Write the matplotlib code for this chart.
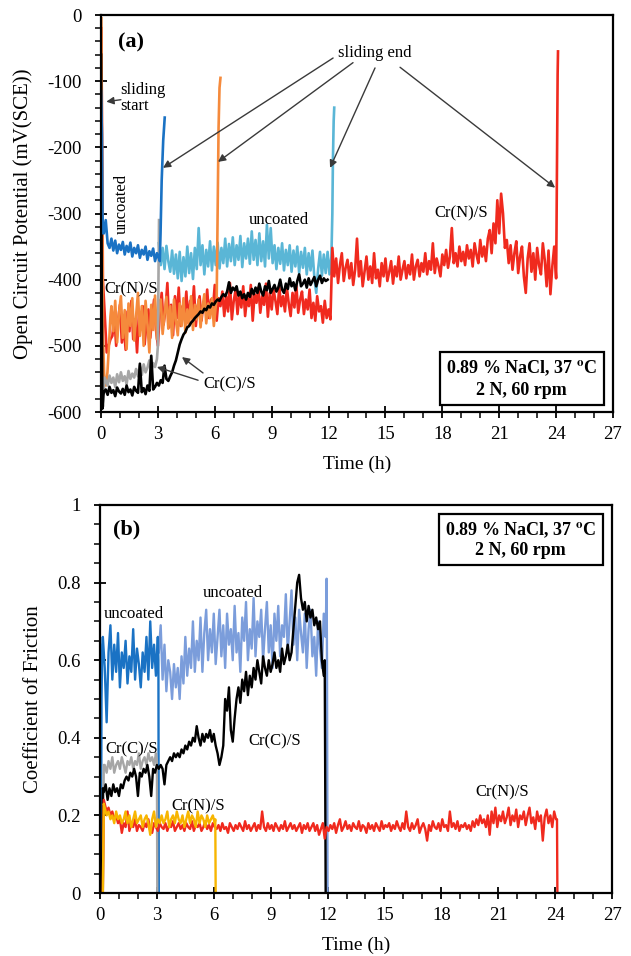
import numpy as np
import matplotlib
matplotlib.use("Agg")
from matplotlib import pyplot as plt
from matplotlib.ticker import MultipleLocator, FuncFormatter

plt.rcParams['font.family'] = ['Liberation Serif', 'DejaVu Serif']
plt.rcParams['mathtext.fontset'] = 'stix'
plt.rcParams['axes.unicode_minus'] = False

# colours of the runs
C_UNC3 = '#1a72c4'
C_UNC12_A = '#5ab6d6'
C_UNC12_B = '#7b9ddb'
C_N6_A = '#f58a3c'
C_N6_B = '#f7b500'
C_N24 = '#f02a1e'
C_C3 = '#a6a6a6'
C_C12 = '#000000'

# ---------------- (a) open circuit potential, mV(SCE) ----------------
# uncoated, 3 h sliding
ocp_u3_head_t = [0.0, 0.05, 0.08, 0.11]
ocp_u3_head_v = [-115, -180, -300, -330]
ocp_u3_span = (0.15, 3.05)
ocp_u3 = [-330, -310, -345, -352, -338, -356, -341, -360, -347, -355,
          -343, -362, -349, -358, -344, -365, -352, -360, -348, -367,
          -355, -362, -350, -370, -357, -364, -353, -372, -360, -368]
ocp_u3_tail_t = [3.1, 3.14, 3.2, 3.28, 3.36]
ocp_u3_tail_v = [-372, -330, -250, -190, -155]

# uncoated, 12 h sliding
ocp_u12_span = (3.05, 12.15)
ocp_u12 = [-345, -378, -352, -384, -349, -372, -388, -356, -391, -362,
           -398, -358, -402, -366, -395, -350, -390, -360, -399, -352,
           -384, -322, -378, -348, -392, -355, -380, -342, -386, -350,
           -378, -344, -383, -352, -375, -338, -380, -346, -372, -336,
           -378, -348, -370, -334, -381, -345, -368, -338, -376, -327,
           -370, -340, -378, -330, -372, -342, -380, -317, -368, -322,
           -375, -348, -384, -352, -376, -345, -386, -355, -378, -348,
           -388, -356, -380, -350, -390, -358, -382, -352, -392, -360,
           -386, -356, -396, -420, -384, -358, -394, -362, -390, -358,
           -392, -365]
ocp_u12_tail_t = [12.2, 12.23, 12.27, 12.3]
ocp_u12_tail_v = [-300, -220, -160, -140]

# Cr(N)/S, 6 h sliding
ocp_n6_head_t = [0.02, 0.05, 0.1, 0.18, 0.26, 0.34, 0.42, 0.5]
ocp_n6_head_v = [-5, -200, -480, -556, -560, -540, -500, -455]
ocp_n6_span = (0.55, 6.05)
ocp_n6 = [-440, -478, -432, -495, -450, -425, -488, -446, -505, -436,
          -470, -428, -492, -455, -420, -485, -440, -500, -432, -468,
          -510, -438, -476, -424, -490, -445, -430, -482, -452, -426,
          -474, -440, -488, -430, -462, -484, -436, -470, -428, -480,
          -445, -468, -425, -476, -438, -460, -430, -472, -442, -422,
          -466, -436, -458, -428, -470, -440]
ocp_n6_tail_t = [6.1, 6.15, 6.2, 6.25, 6.3]
ocp_n6_tail_v = [-430, -300, -170, -110, -95]

# Cr(N)/S, 24 h sliding (before and after the 12 h step)
ocp_n24_head_t = [0.02, 0.1, 0.3, 0.5]
ocp_n24_head_v = [-20, -400, -510, -490]
ocp_n24_span1 = (0.6, 12.1)
ocp_n24_1 = [-485, -455, -500, -462, -438, -495, -470, -506, -448, -478,
             -432, -490, -460, -510, -452, -475, -440, -498, -466, -445,
             -488, -455, -430, -476, -500, -450, -420, -468, -445, -405,
             -472, -438, -484, -425, -458, -412, -470, -440, -455, -418,
             -465, -432, -452, -410, -470, -440, -425, -462, -435, -448,
             -415, -458, -430, -445, -408, -462, -428, -440, -418, -455,
             -425, -448, -405, -460, -432, -415, -452, -420, -442, -410,
             -455, -428, -440, -408, -462, -422, -435, -412, -450, -425,
             -438, -406, -456, -420, -445, -415, -432, -452, -410, -440,
             -425, -448, -412, -436, -455, -420, -442, -408, -450, -430,
             -418, -452, -430, -445, -415, -458, -435, -462, -425, -448,
             -440, -465, -432, -458, -445, -460]
ocp_n24_span2 = (12.2, 24.0)
ocp_n24_2 = [-352, -395, -368, -405, -378, -360, -402, -382, -370, -398,
             -375, -408, -385, -338, -395, -372, -410, -388, -365, -400,
             -380, -405, -360, -398, -385, -410, -375, -395, -368, -402,
             -388, -372, -406, -380, -395, -365, -400, -385, -372, -398,
             -378, -392, -362, -400, -380, -370, -395, -375, -388, -360,
             -392, -372, -385, -345, -390, -368, -380, -395, -362, -378,
             -355, -382, -365, -322, -375, -360, -380, -350, -372, -358,
             -378, -348, -368, -355, -380, -345, -362, -375, -340, -365,
             -350, -372, -338, -325, -360, -315, -345, -280, -330, -270,
             -300, -352, -340, -375, -348, -385, -360, -342, -390, -365,
             -350, -395, -420, -368, -345, -388, -360, -400, -352, -378,
             -392, -345, -370, -410, -356, -422, -380, -350, -398]
ocp_n24_tail_t = [24.02, 24.05, 24.08, 24.1]
ocp_n24_tail_v = [-330, -200, -90, -55]

# Cr(C)/S, 3 h sliding
ocp_c3_head_t = [0.12, 0.18]
ocp_c3_head_v = [-590, -548]
ocp_c3_span = (0.25, 2.95)
ocp_c3 = [-552, -560, -545, -556, -548, -562, -543, -555, -540, -553,
          -546, -558, -538, -550, -542, -548, -535, -546, -530, -544,
          -528, -540, -533, -522, -538, -526, -532, -520]
ocp_c3_tail_t = [3.0, 3.03, 3.06]
ocp_c3_tail_v = [-500, -400, -310]

# Cr(C)/S, 12 h sliding
ocp_c12_head_t = [0.0, 0.03, 0.07, 0.12]
ocp_c12_head_v = [-60, -350, -595, -575]
ocp_c12_span = (0.15, 11.95)
ocp_c12 = [-570, -566, -574, -562, -571, -567, -576, -563, -569, -572,
           -565, -574, -560, -570, -566, -575, -562, -568, -571, -527,
           -570, -564, -573, -560, -568, -515, -566, -562, -556, -560,
           -552, -556, -530, -550, -553, -546, -540, -530, -522, -510,
           -498, -490, -483, -479, -472, -470, -465, -462, -458, -455,
           -452, -448, -450, -444, -446, -440, -442, -436, -438, -433,
           -430, -432, -426, -422, -425, -418, -404, -420, -412, -416,
           -410, -424, -418, -428, -422, -430, -420, -426, -414, -422,
           -412, -420, -406, -418, -424, -410, -416, -402, -420, -414,
           -408, -418, -412, -400, -415, -420, -406, -414, -398, -410,
           -404, -416, -402, -392, -410, -406, -400, -412, -398, -408,
           -402, -396, -410, -400, -394, -405, -398, -402, -400]

# ---------------- (b) coefficient of friction ----------------
cof_u3_head_t = [0.05, 0.08, 0.12]
cof_u3_head_v = [0.0, 0.5, 0.64]
cof_u3_span = (0.15, 3.05)
cof_u3 = [0.66, 0.58, 0.44, 0.62, 0.69, 0.55, 0.64, 0.57, 0.67, 0.53,
          0.62, 0.58, 0.65, 0.54, 0.61, 0.57, 0.68, 0.55, 0.63, 0.59,
          0.53, 0.62, 0.57, 0.66, 0.55, 0.70, 0.58, 0.64, 0.56, 0.66]
cof_u3_tail_t = [3.08, 3.1]
cof_u3_tail_v = [0.6, 0.0]

cof_u12_span = (3.1, 11.9)
cof_u12 = [0.62, 0.69, 0.55, 0.64, 0.52, 0.60, 0.57, 0.50, 0.59, 0.53,
           0.58, 0.50, 0.61, 0.54, 0.66, 0.56, 0.63, 0.58, 0.70, 0.57,
           0.65, 0.60, 0.71, 0.57, 0.67, 0.73, 0.60, 0.68, 0.62, 0.72,
           0.59, 0.66, 0.73, 0.61, 0.69, 0.58, 0.72, 0.64, 0.68, 0.60,
           0.74, 0.62, 0.67, 0.57, 0.71, 0.65, 0.75, 0.60, 0.68, 0.63,
           0.76, 0.61, 0.70, 0.66, 0.73, 0.60, 0.68, 0.75, 0.62, 0.69,
           0.58, 0.72, 0.65, 0.74, 0.61, 0.69, 0.66, 0.77, 0.62, 0.70,
           0.78, 0.64, 0.71, 0.60, 0.73, 0.67, 0.62, 0.72, 0.58, 0.68,
           0.73, 0.61, 0.66, 0.56, 0.70, 0.63, 0.58, 0.72, 0.66]
cof_u12_tail_t = [11.95, 11.97, 12.0]
cof_u12_tail_v = [0.81, 0.6, 0.0]

cof_c12_head_t = [0.1, 0.15]
cof_c12_head_v = [0.0, 0.27]
cof_c12_span = (0.2, 11.8)
cof_c12 = [0.26, 0.28, 0.24, 0.27, 0.25, 0.28, 0.26, 0.27, 0.25, 0.28,
           0.27, 0.29, 0.30, 0.29, 0.31, 0.30, 0.32, 0.30, 0.25, 0.31,
           0.30, 0.32, 0.31, 0.33, 0.30, 0.25, 0.32, 0.31, 0.33, 0.32,
           0.33, 0.32, 0.28, 0.33, 0.34, 0.35, 0.34, 0.36, 0.35, 0.36,
           0.35, 0.37, 0.36, 0.38, 0.37, 0.39, 0.38, 0.40, 0.39, 0.43,
           0.40, 0.38, 0.41, 0.39, 0.41, 0.40, 0.42, 0.39, 0.41, 0.38,
           0.36, 0.33, 0.35, 0.38, 0.50, 0.47, 0.53, 0.42, 0.39, 0.45,
           0.50, 0.53, 0.49, 0.55, 0.52, 0.57, 0.51, 0.56, 0.53, 0.58,
           0.55, 0.60, 0.57, 0.54, 0.61, 0.58, 0.56, 0.60, 0.57, 0.59,
           0.62, 0.58, 0.60, 0.57, 0.63, 0.59, 0.61, 0.64, 0.60, 0.62,
           0.68, 0.74, 0.80, 0.82, 0.76, 0.73, 0.75, 0.70, 0.74, 0.71,
           0.73, 0.69, 0.71, 0.68, 0.70, 0.60, 0.56]
cof_c12_tail_t = [11.85, 11.9]
cof_c12_tail_v = [0.6, 0.0]

cof_c3_head_t = [0.15, 0.2]
cof_c3_head_v = [0.0, 0.33]
cof_c3_span = (0.25, 2.95)
cof_c3 = [0.33, 0.31, 0.34, 0.32, 0.35, 0.31, 0.33, 0.34, 0.32, 0.35,
          0.33, 0.31, 0.34, 0.33, 0.35, 0.32, 0.34, 0.33, 0.36, 0.32,
          0.34, 0.35, 0.33, 0.36, 0.34, 0.35, 0.33, 0.36]
cof_c3_tail_t = [3.0, 3.02]
cof_c3_tail_v = [0.34, 0.0]

cof_n6_head_t = [0.15, 0.2]
cof_n6_head_v = [0.0, 0.23]
cof_n6_span = (0.25, 6.05)
cof_n6 = [0.22, 0.20, 0.21, 0.19, 0.20, 0.18, 0.21, 0.19, 0.20, 0.18,
          0.19, 0.21, 0.18, 0.20, 0.17, 0.19, 0.21, 0.18, 0.19, 0.20,
          0.17, 0.19, 0.20, 0.18, 0.15, 0.19, 0.21, 0.17, 0.19, 0.18,
          0.20, 0.18, 0.19, 0.21, 0.17, 0.19, 0.20, 0.18, 0.21, 0.19,
          0.18, 0.20, 0.17, 0.19, 0.21, 0.18, 0.20, 0.19, 0.17, 0.21,
          0.18, 0.20, 0.19, 0.17, 0.20, 0.18, 0.19, 0.20, 0.18]
cof_n6_tail_t = [6.08, 6.1]
cof_n6_tail_v = [0.19, 0.0]

cof_n24_head_t = [0.15, 0.2]
cof_n24_head_v = [0.0, 0.24]
cof_n24_span = (0.25, 24.05)
cof_n24 = [0.23, 0.21, 0.22, 0.20, 0.21, 0.19, 0.20, 0.18, 0.19, 0.155,
           0.18, 0.17, 0.21, 0.16, 0.18, 0.17, 0.19, 0.16, 0.175, 0.17,
           0.16, 0.18, 0.17, 0.19, 0.16, 0.155, 0.18, 0.17, 0.16, 0.18,
           0.17, 0.165, 0.18, 0.16, 0.175, 0.17, 0.185, 0.16, 0.17, 0.18,
           0.165, 0.175, 0.16, 0.18, 0.17, 0.165, 0.185, 0.16, 0.175, 0.17,
           0.18, 0.16, 0.17, 0.185, 0.165, 0.175, 0.16, 0.18, 0.17, 0.165,
           0.175, 0.16, 0.18, 0.165, 0.17, 0.155, 0.18, 0.17, 0.16, 0.175,
           0.165, 0.18, 0.17, 0.16, 0.185, 0.165, 0.175, 0.16, 0.17, 0.18,
           0.16, 0.175, 0.165, 0.21, 0.17, 0.16, 0.18, 0.165, 0.175, 0.16,
           0.18, 0.17, 0.16, 0.175, 0.165, 0.185, 0.16, 0.17, 0.18, 0.165,
           0.175, 0.16, 0.17, 0.18, 0.155, 0.175, 0.165, 0.18, 0.16, 0.17,
           0.18, 0.16, 0.175, 0.15, 0.165, 0.18, 0.14, 0.17, 0.16, 0.175,
           0.165, 0.18, 0.155, 0.175, 0.19, 0.16, 0.17, 0.185, 0.165, 0.175,
           0.16, 0.18, 0.17, 0.165, 0.185, 0.16, 0.175, 0.17, 0.155, 0.18,
           0.165, 0.175, 0.16, 0.18, 0.17, 0.16, 0.185, 0.165, 0.175, 0.17,
           0.18, 0.16, 0.175, 0.165, 0.185, 0.17, 0.16, 0.18, 0.165, 0.21,
           0.17, 0.16, 0.18, 0.165, 0.175, 0.19, 0.155, 0.17, 0.18, 0.165,
           0.135, 0.175, 0.16, 0.185, 0.17, 0.165, 0.18, 0.16, 0.19, 0.17,
           0.175, 0.16, 0.21, 0.17, 0.18, 0.165, 0.185, 0.16, 0.175, 0.17,
           0.18, 0.165, 0.175, 0.16, 0.185, 0.17, 0.19, 0.175, 0.20, 0.18,
           0.19, 0.17, 0.20, 0.15, 0.21, 0.18, 0.22, 0.17, 0.20, 0.185,
           0.21, 0.18, 0.195, 0.22, 0.175, 0.20, 0.185, 0.215, 0.17, 0.20,
           0.19, 0.21, 0.175, 0.20, 0.22, 0.18, 0.195, 0.165, 0.21, 0.185,
           0.20, 0.135, 0.195, 0.215, 0.18, 0.20, 0.17, 0.21, 0.19]
cof_n24_tail_t = [24.1, 24.12]
cof_n24_tail_v = [0.19, 0.0]

TIME_TICKS = [0, 3, 6, 9, 12, 15, 18, 21, 24, 27]
CONDITIONS = '0.89 % NaCl, 37 $^{\\mathbf{o}}$C\n2 N, 60 rpm'


def trace(span, body, head_t=(), head_v=(), tail_t=(), tail_v=()):
    """Join the start transient, the sampled record and the end transient."""
    t = np.concatenate([head_t, np.linspace(span[0], span[1], len(body)), tail_t])
    v = np.concatenate([head_v, body, tail_v])
    return t, v


def style_axes(ax, ylabel):
    for s in ax.spines.values():
        s.set_linewidth(1.6)
    ax.set_xlim(0, 27)
    ax.set_xticks(TIME_TICKS)
    ax.xaxis.set_minor_locator(MultipleLocator(1))
    ax.tick_params(which='major', direction='inout', length=8, width=1.3,
                   labelsize=13.5)
    ax.tick_params(which='minor', direction='out', length=4, width=1.1)
    ax.tick_params(axis='x', which='major', pad=6)
    ax.tick_params(axis='y', which='major', pad=10)
    ax.set_xlabel('Time (h)', fontsize=14, labelpad=9)
    ax.set_ylabel(ylabel, fontsize=15, labelpad=10)


def arrow(ax, tail, head):
    ax.annotate('', xy=head, xytext=tail,
                arrowprops=dict(arrowstyle='-|>', color='#3a3a3a', lw=1.0,
                                mutation_scale=11, shrinkA=0, shrinkB=0))


def plot_ocp(ax):
    lw = 1.9
    ax.plot(*trace(ocp_u12_span, ocp_u12, tail_t=ocp_u12_tail_t,
                   tail_v=ocp_u12_tail_v), color=C_UNC12_A, lw=lw)
    t1, v1 = trace(ocp_n24_span1, ocp_n24_1, ocp_n24_head_t, ocp_n24_head_v)
    t2, v2 = trace(ocp_n24_span2, ocp_n24_2, tail_t=ocp_n24_tail_t,
                   tail_v=ocp_n24_tail_v)
    ax.plot(np.concatenate([t1, t2]), np.concatenate([v1, v2]),
            color=C_N24, lw=lw)
    ax.plot(*trace(ocp_n6_span, ocp_n6, ocp_n6_head_t, ocp_n6_head_v,
                   ocp_n6_tail_t, ocp_n6_tail_v), color=C_N6_A, lw=lw)
    ax.plot(*trace(ocp_c3_span, ocp_c3, ocp_c3_head_t, ocp_c3_head_v,
                   ocp_c3_tail_t, ocp_c3_tail_v), color=C_C3, lw=lw)
    ax.plot(*trace(ocp_c12_span, ocp_c12, ocp_c12_head_t, ocp_c12_head_v),
            color=C_C12, lw=lw)
    ax.plot(*trace(ocp_u3_span, ocp_u3, ocp_u3_head_t, ocp_u3_head_v,
                   ocp_u3_tail_t, ocp_u3_tail_v), color=C_UNC3, lw=lw)

    ax.set_ylim(-600, 0)
    ax.yaxis.set_major_locator(MultipleLocator(100))
    ax.yaxis.set_minor_locator(MultipleLocator(20))
    style_axes(ax, 'Open Circuit Potential (mV(SCE))')

    ax.text(0.9, -42, '(a)', fontsize=16, fontweight='bold', va='center')
    ax.text(1.0, -125, 'sliding\nstart', fontsize=12, va='center',
            linespacing=1.0)
    arrow(ax, (1.05, -128), (0.28, -131))
    ax.text(1.1, -286, 'uncoated', fontsize=12, rotation=90,
            ha='center', va='center')
    ax.text(9.4, -310, 'uncoated', fontsize=12, ha='center', va='center')
    ax.text(1.6, -415, 'Cr(N)/S', fontsize=12, ha='center', va='center')
    ax.text(19.0, -300, 'Cr(N)/S', fontsize=12, ha='center', va='center')
    ax.text(6.8, -559, 'Cr(C)/S', fontsize=12, ha='center', va='center')
    arrow(ax, (5.38, -541), (4.27, -517))
    arrow(ax, (5.12, -552), (2.95, -532))
    ax.text(14.45, -57, 'sliding end', fontsize=12, ha='center',
            va='center')
    arrow(ax, (12.24, -65), (3.27, -231))
    arrow(ax, (13.29, -72), (6.17, -222))
    arrow(ax, (14.45, -80), (12.08, -231))
    arrow(ax, (15.77, -79), (23.95, -261))
    ax.text(0.822, 0.084, CONDITIONS, transform=ax.transAxes, fontsize=13,
            fontweight='bold', ha='center', va='center', linespacing=1.25,
            bbox=dict(boxstyle='square,pad=0.35', fc='white', ec='black',
                      lw=1.6))


def plot_cof(ax):
    lw = 1.7
    ax.plot(*trace(cof_u12_span, cof_u12, tail_t=cof_u12_tail_t,
                   tail_v=cof_u12_tail_v), color=C_UNC12_B, lw=lw)
    ax.plot(*trace(cof_u3_span, cof_u3, cof_u3_head_t, cof_u3_head_v,
                   cof_u3_tail_t, cof_u3_tail_v), color=C_UNC3, lw=lw)
    ax.plot(*trace(cof_c3_span, cof_c3, cof_c3_head_t, cof_c3_head_v,
                   cof_c3_tail_t, cof_c3_tail_v), color=C_C3, lw=lw)
    ax.plot(*trace(cof_c12_span, cof_c12, cof_c12_head_t, cof_c12_head_v,
                   cof_c12_tail_t, cof_c12_tail_v), color=C_C12, lw=lw)
    ax.plot(*trace(cof_n24_span, cof_n24, cof_n24_head_t, cof_n24_head_v,
                   cof_n24_tail_t, cof_n24_tail_v), color=C_N24, lw=lw)
    ax.plot(*trace(cof_n6_span, cof_n6, cof_n6_head_t, cof_n6_head_v,
                   cof_n6_tail_t, cof_n6_tail_v), color=C_N6_B, lw=lw)

    ax.set_ylim(0, 1)
    ax.yaxis.set_major_locator(MultipleLocator(0.2))
    ax.yaxis.set_minor_locator(MultipleLocator(0.05))
    ax.yaxis.set_major_formatter(FuncFormatter(lambda v, _: f'{v:g}'))
    style_axes(ax, 'Coefficient of Friction')

    ax.text(1.43, 0.936, '(b)', fontsize=16, fontweight='bold',
            ha='center', va='center')
    ax.text(1.8, 0.72, 'uncoated', fontsize=12, ha='center', va='center')
    ax.text(7.0, 0.773, 'uncoated', fontsize=12, ha='center', va='center')
    ax.text(1.65, 0.369, 'Cr(C)/S', fontsize=12, ha='center', va='center')
    ax.text(9.2, 0.39, 'Cr(C)/S', fontsize=12, ha='center', va='center')
    ax.text(5.2, 0.222, 'Cr(N)/S', fontsize=12, ha='center', va='center')
    ax.text(21.2, 0.26, 'Cr(N)/S', fontsize=12, ha='center', va='center')
    ax.text(0.822, 0.910, CONDITIONS, transform=ax.transAxes, fontsize=13,
            fontweight='bold', ha='center', va='center', linespacing=1.15,
            bbox=dict(boxstyle='square,pad=0.35', fc='white', ec='black',
                      lw=1.6))


def main():
    fig = plt.figure(figsize=(6.31, 9.56), dpi=100)
    ax_a = fig.add_axes([101 / 631, 1 - 412 / 956, 512 / 631, 397 / 956])
    ax_b = fig.add_axes([100 / 631, 1 - 893 / 956, 512 / 631, 388 / 956])
    plot_ocp(ax_a)
    plot_cof(ax_b)
    fig.savefig('out.png', dpi=100)
    return 0


if __name__ == "__main__":
    main()
